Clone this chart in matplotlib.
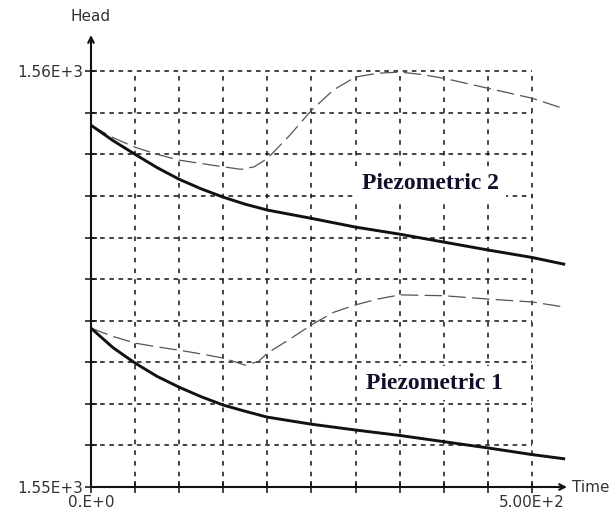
import matplotlib
matplotlib.use("Agg")
import matplotlib.pyplot as plt
import numpy as np

INK = "#111111"
DASH = "#555555"
plt.rcParams.update({"font.family": ["Liberation Sans Narrow", "DejaVu Sans"]})

# time (s) and head (m)
t_solid = [0, 25, 50, 75, 100, 125, 150, 175, 200, 250, 300, 350, 400, 450, 500, 536]
head_p2_calc = [1558.70, 1558.33, 1558.00, 1557.68, 1557.40, 1557.17, 1556.97, 1556.80,
                1556.66, 1556.46, 1556.25, 1556.08, 1555.89, 1555.70, 1555.52, 1555.36]
head_p1_calc = [1553.82, 1553.35, 1552.98, 1552.66, 1552.40, 1552.17, 1551.97, 1551.82,
                1551.68, 1551.51, 1551.37, 1551.24, 1551.09, 1550.94, 1550.78, 1550.68]

t_p2_meas = [0, 25, 50, 75, 100, 125, 150, 170, 185, 200, 225, 250, 275, 300, 325, 350,
             375, 400, 450, 500, 536]
head_p2_meas = [1558.70, 1558.40, 1558.17, 1558.00, 1557.86, 1557.78, 1557.70, 1557.64,
                1557.70, 1557.90, 1558.45, 1559.06, 1559.55, 1559.86, 1559.95, 1559.98,
                1559.92, 1559.83, 1559.59, 1559.35, 1559.10]
t_p1_meas = [0, 25, 50, 75, 100, 125, 150, 175, 190, 200, 225, 250, 275, 300, 325, 350,
             400, 450, 500, 536]
head_p1_meas = [1553.82, 1553.62, 1553.46, 1553.37, 1553.29, 1553.20, 1553.10, 1552.93,
                1553.02, 1553.22, 1553.55, 1553.90, 1554.20, 1554.38, 1554.52, 1554.62,
                1554.60, 1554.52, 1554.45, 1554.33]

x_grid = np.arange(0, 501, 50)
y_grid = np.arange(1550, 1561, 1)

fig = plt.figure(figsize=(6.12, 5.22), dpi=100)
ax = fig.add_axes([91/612, 35/522, 476/612, 452/522])
ax.set_xlim(0, 539.7)
ax.set_ylim(1550, 1560.87)
for s in ax.spines.values():
    s.set_visible(False)

# dashed grid, only over the 0..500 / 1550..1560 window
for xv in x_grid[1:]:
    ax.plot([xv, xv], [1550, 1560], color=INK, lw=1.1, ls=(0, (3, 4)), zorder=1)
for yv in y_grid[1:]:
    ax.plot([0, 500], [yv, yv], color=INK, lw=1.1, ls=(0, (3, 3)), zorder=1)

ax.plot(t_p2_meas, head_p2_meas, color=DASH, lw=0.9, ls=(0, (14, 5)), zorder=3)
ax.plot(t_p1_meas, head_p1_meas, color=DASH, lw=0.9, ls=(0, (14, 5)), zorder=3)
ax.plot(t_solid, head_p2_calc, color=INK, lw=2.1, zorder=4)
ax.plot(t_solid, head_p1_calc, color=INK, lw=2.1, zorder=4)

# axes with open arrow heads
ax.annotate("", xy=(1.0, 0), xytext=(0, 0), xycoords="axes fraction",
            arrowprops=dict(arrowstyle="->", lw=1.5, color=INK, shrinkA=0, shrinkB=0))
ax.annotate("", xy=(0, 1.0), xytext=(0, 0), xycoords="axes fraction",
            arrowprops=dict(arrowstyle="->", lw=1.5, color=INK, shrinkA=0, shrinkB=0))

ax.set_xticks(x_grid)
ax.set_xticklabels(["0.E+0"] + [""] * 9 + ["5.00E+2"])
ax.set_yticks(y_grid)
ax.set_yticklabels(["1.55E+3"] + [""] * 9 + ["1.56E+3"])
ax.tick_params(direction="inout", length=9, width=1.1, color=INK, labelsize=11,
               labelcolor="#333333", pad=1)

ax.text(0, 1.025, "Head", transform=ax.transAxes, ha="center", va="bottom",
        fontsize=11, color="#333333")
ax.text(1.01, 0, "Time", transform=ax.transAxes, ha="left", va="center",
        fontsize=11, color="#333333")

box = dict(facecolor="white", edgecolor="none", pad=5)
ax.text(385, 1557.3, "Piezometric 2", ha="center", va="center", fontsize=17,
        fontweight="bold", family="Liberation Serif", color="#10102a", bbox=box, zorder=5)
ax.text(390, 1552.5, "Piezometric 1", ha="center", va="center", fontsize=17,
        fontweight="bold", family="Liberation Serif", color="#10102a", bbox=box, zorder=5)

fig.savefig("out.png", facecolor="white")
